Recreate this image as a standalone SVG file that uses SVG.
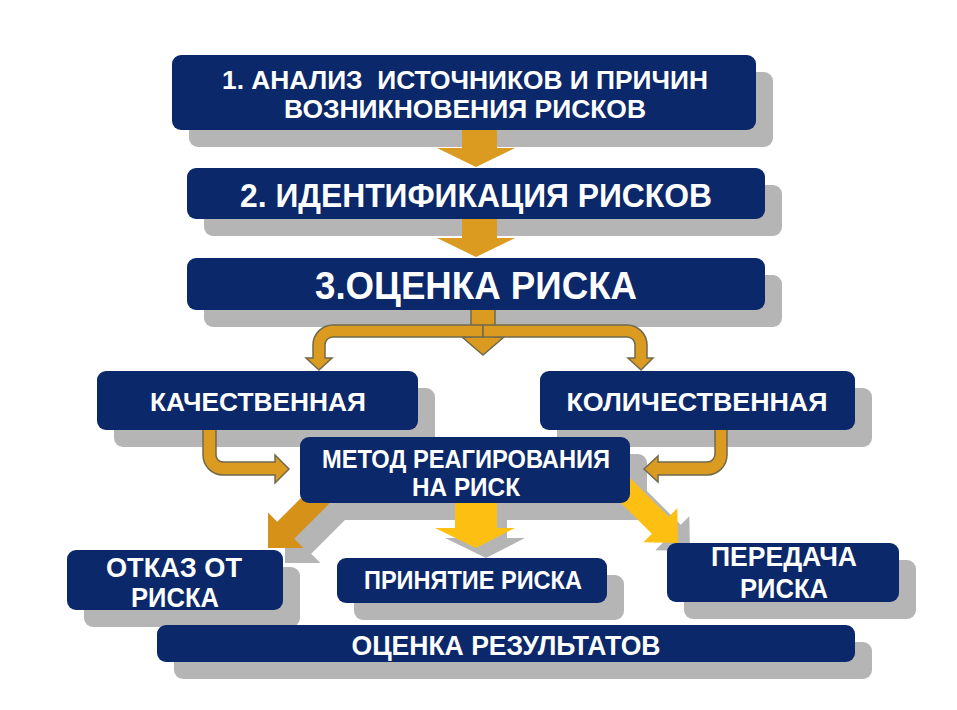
<svg xmlns="http://www.w3.org/2000/svg" width="957" height="710" viewBox="0 0 957 710">
<defs>
<style>
.sh{fill:#b5b5b5}
.bx{fill:#0b286a}
.t{fill:#ffffff;font-family:"Liberation Sans Narrow","Liberation Sans",Arial,sans-serif;font-weight:bold;text-anchor:middle;white-space:pre}
.or{fill:#db9a20}
.orl{fill:#db9a20;stroke:#6f6a4c;stroke-width:1.5;stroke-linejoin:miter}
.dor{fill:#d69119}
.yl{fill:#fdc012}
</style>
</defs>
<rect width="957" height="710" fill="#ffffff"/>
<g id="shadows">
<rect class="sh" x="189" y="72" width="584" height="75" rx="9"/>
<rect class="sh" x="204" y="185" width="578" height="51" rx="9"/>
<rect class="sh" x="204" y="275" width="578" height="52" rx="9"/>
<rect class="sh" x="114" y="388" width="321" height="59" rx="9"/>
<rect class="sh" x="557" y="388" width="315" height="59" rx="9"/>
<rect class="sh" x="317" y="454" width="330" height="66" rx="9"/>
<rect class="sh" x="84" y="567" width="216" height="60" rx="9"/>
<rect class="sh" x="354" y="575" width="270" height="45" rx="9"/>
<rect class="sh" x="684" y="560" width="232" height="59" rx="9"/>
<rect class="sh" x="174" y="642" width="698" height="37" rx="9"/>
<polygon class="sh" points="285,563 285,527.6 294.2,536.8 329.2,501.8 346.2,518.8 311.2,553.8 320.4,563"/>
<polygon class="sh" points="465,505 507,505 507,538 525,538 486,558 445,538 465,538"/>
<polygon class="sh" points="690,551 689.3,516.3 680.8,524.8 642,486 625,503 663.8,541.8 655.3,550.3"/>
</g>
<g id="connectors">
<polygon class="or" points="462,128 497,128 497,148 515,148 476,167 437,148 462,148"/>
<polygon class="or" points="462,217 497,217 497,238 515,238 476,257 437,238 462,238"/>
<path class="orl" d="M471,308 H495 V337 H504 L483,355 L462,337 H471 Z"/>
<path class="orl" d="M483,325 H333 A20,20 0 0 0 313,345 V358 H306 L319,370 L332,358 H325 V345 A8,8 0 0 1 333,337 H483 Z"/>
<path class="orl" d="M483,325 H627 A20,20 0 0 1 647,345 V358 H653 L641,370 L628,358 H635 V345 A8,8 0 0 0 627,337 H483 Z"/>
<path class="orl" d="M203,428 V455 A20,20 0 0 0 223,475 H275 V483 L289,469 L275,455 V462 H223 A7,7 0 0 1 216,455 V428 Z"/>
<path class="orl" d="M727,428 V455 A20,20 0 0 1 707,475 H658 V482 L644,469 L658,456 V462 H707 A8,8 0 0 0 715,454 V428 Z"/>
<polygon class="dor" points="268,548 268,512.6 277.2,521.8 312.2,486.8 329.2,503.8 294.2,538.8 303.4,548"/>
<polygon class="yl" points="455,495 497,495 497,528 515,528 476,548 435,528 455,528"/>
<polygon class="yl" points="678,543 677.3,508.3 668.8,516.8 630,478 613,495 651.8,533.8 643.3,542.3"/>
</g>
<g id="n1"><rect class="bx" x="172" y="55" width="584" height="75" rx="9"/>
<text class="t" x="465" y="89" font-size="26" textLength="486" lengthAdjust="spacingAndGlyphs" xml:space="preserve">1. АНАЛИЗ  ИСТОЧНИКОВ И ПРИЧИН</text>
<text class="t" x="465" y="118" font-size="26" textLength="362" lengthAdjust="spacingAndGlyphs">ВОЗНИКНОВЕНИЯ РИСКОВ</text></g>
<g id="n2"><rect class="bx" x="187" y="168" width="578" height="51" rx="9"/>
<text class="t" x="476" y="207" font-size="34" textLength="472" lengthAdjust="spacingAndGlyphs">2. ИДЕНТИФИКАЦИЯ РИСКОВ</text></g>
<g id="n3"><rect class="bx" x="187" y="258" width="578" height="52" rx="9"/>
<text class="t" x="476" y="299" font-size="38" textLength="322" lengthAdjust="spacingAndGlyphs">3.ОЦЕНКА РИСКА</text></g>
<g id="n4"><rect class="bx" x="97" y="371" width="321" height="59" rx="9"/>
<text class="t" x="258" y="411" font-size="26" textLength="216" lengthAdjust="spacingAndGlyphs">КАЧЕСТВЕННАЯ</text></g>
<g id="n5"><rect class="bx" x="540" y="371" width="315" height="59" rx="9"/>
<text class="t" x="697" y="411" font-size="26" textLength="261" lengthAdjust="spacingAndGlyphs">КОЛИЧЕСТВЕННАЯ</text></g>
<g id="n6"><rect class="bx" x="300" y="437" width="330" height="66" rx="9"/>
<text class="t" x="466" y="468" font-size="25" textLength="288" lengthAdjust="spacingAndGlyphs">МЕТОД РЕАГИРОВАНИЯ</text>
<text class="t" x="466" y="496" font-size="25" textLength="108" lengthAdjust="spacingAndGlyphs">НА РИСК</text></g>
<g id="n7"><rect class="bx" x="67" y="550" width="216" height="60" rx="9"/>
<text class="t" x="174" y="577" font-size="27" textLength="136" lengthAdjust="spacingAndGlyphs">ОТКАЗ ОТ</text>
<text class="t" x="175" y="607" font-size="27" textLength="88" lengthAdjust="spacingAndGlyphs">РИСКА</text></g>
<g id="n8"><rect class="bx" x="337" y="558" width="270" height="45" rx="9"/>
<text class="t" x="473" y="589" font-size="25" textLength="218" lengthAdjust="spacingAndGlyphs">ПРИНЯТИЕ РИСКА</text></g>
<g id="n9"><rect class="bx" x="667" y="543" width="232" height="59" rx="9"/>
<text class="t" x="784" y="566" font-size="27" textLength="146" lengthAdjust="spacingAndGlyphs">ПЕРЕДАЧА</text>
<text class="t" x="784" y="598" font-size="27" textLength="88" lengthAdjust="spacingAndGlyphs">РИСКА</text></g>
<g id="n10"><rect class="bx" x="157" y="625" width="698" height="37" rx="9"/>
<text class="t" x="506" y="655" font-size="27" textLength="309" lengthAdjust="spacingAndGlyphs">ОЦЕНКА РЕЗУЛЬТАТОВ</text></g>
</svg>
